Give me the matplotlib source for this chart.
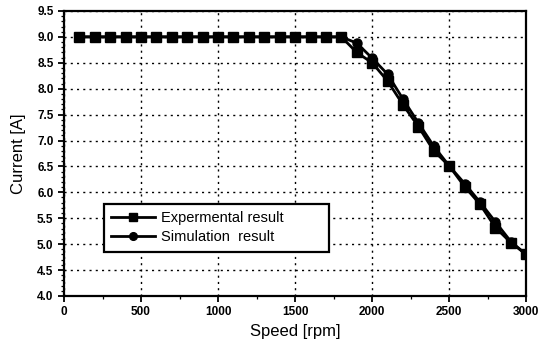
import matplotlib.pyplot as plt
from matplotlib.ticker import MultipleLocator

speed = list(range(100, 3001, 100))
exp_current = [9.0] * 18 + [8.70, 8.50, 8.15, 7.69, 7.27, 6.80, 6.51, 6.11, 5.77, 5.32, 5.03, 4.80]
sim_current = [9.0] * 18 + [8.88, 8.59, 8.28, 7.80, 7.34, 6.89, 6.51, 6.17, 5.81, 5.43, 5.05, 4.80]

plt.rcParams['font.family'] = ['Liberation Sans', 'DejaVu Sans']

fig = plt.figure(figsize=(5.4, 3.54), dpi=100)
ax = fig.add_axes([0.1185, 0.164, 0.856, 0.805])

ax.plot(speed, exp_current, '-s', color='black', linewidth=2, markersize=7, label='Expermental result')
ax.plot(speed, sim_current, '-o', color='black', linewidth=2, markersize=6.5, label='Simulation  result')

ax.set_xlim(0, 3000)
ax.set_ylim(4.0, 9.5)
ax.xaxis.set_major_locator(MultipleLocator(500))
ax.xaxis.set_minor_locator(MultipleLocator(250))
ax.yaxis.set_major_locator(MultipleLocator(0.5))
ax.yaxis.set_minor_locator(MultipleLocator(0.1))
ax.yaxis.set_major_formatter(plt.FormatStrFormatter('%.1f'))

ax.grid(True, which='major', linestyle=(0, (1.5, 3)), color='black', linewidth=1.0)
for s in ax.spines.values():
    s.set_linewidth(1.6)

ax.tick_params(which='major', direction='out', length=4, width=1.3, labelsize=8.5)
ax.tick_params(which='minor', direction='out', length=2, width=0.9)
for lab in ax.get_xticklabels() + ax.get_yticklabels():
    lab.set_fontweight('bold')

ax.set_xlabel('Speed [rpm]', fontsize=12, labelpad=4)
ax.set_ylabel('Current [A]', fontsize=12, labelpad=8)

leg = ax.legend(loc='lower left', bbox_to_anchor=(0.07, 0.13, 0.52, 0.215), mode='expand',
                fontsize=10.5, frameon=True, fancybox=False, edgecolor='black', framealpha=1,
                borderpad=0.5, handlelength=3, handletextpad=0.4, labelspacing=0.35,
                markerscale=0.85)
leg.get_frame().set_linewidth(1.6)

fig.savefig('out.png', dpi=100)
